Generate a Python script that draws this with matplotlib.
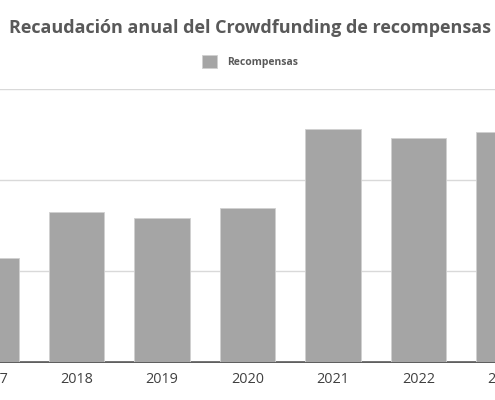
import matplotlib
matplotlib.use("Agg")
import matplotlib.pyplot as plt
from matplotlib.patches import Patch
import numpy as np

plt.rcParams['font.family'] = ['Open Sans', 'DejaVu Sans']

# data (millones de euros)
years = ['2017', '2018', '2019', '2020', '2021', '2022', '2023']
recompensas = [11.5, 16.5, 15.9, 16.9, 25.6, 24.7, 25.3]
grid_ticks = [0, 10, 20, 30]

bar_color = '#a5a5a5'

fig = plt.figure(figsize=(4.95, 4.0), dpi=100)
ax = fig.add_axes([0.0, 0.0943, 1.0, 0.6825])

x = np.arange(len(years))
ax.bar(x, recompensas, width=0.65, color=bar_color, edgecolor='#d0d0d0',
       linewidth=0.6, zorder=3)

ax.set_yticks(grid_ticks)
ax.set_yticklabels([])
ax.tick_params(axis='y', length=0)
ax.grid(axis='y', color='#d9d9d9', linewidth=1.0, zorder=0)
ax.axhline(0, color='#404040', linewidth=1.2, zorder=1, clip_on=False)

ax.set_xticks([])
for s in ax.spines.values():
    s.set_visible(False)

# the source image is cropped on both sides
ax.set_xlim(0.102, 5.898)
ax.set_ylim(0, 30)

# year labels drawn as text so the cut ones at the edges still show
trans = ax.get_xaxis_transform()
for xi, yr in zip(x, years):
    ax.text(xi, -0.063, yr, transform=trans, ha='center', va='center',
            fontsize=10.4, color='#404040', clip_on=False)

fig.text(0.505, 0.931, 'Recaudación anual del Crowdfunding de recompensas',
         ha='center', va='center', fontsize=13.0, color='#595959',
         fontweight='bold')

handle = Patch(facecolor=bar_color, edgecolor='#d0d0d0', linewidth=0.6)
leg = fig.legend([handle], ['Recompensas'], loc='center',
                 bbox_to_anchor=(0.505, 0.847), frameon=False,
                 prop={'size': 7.5, 'weight': 'bold'},
                 handlelength=1.45, handleheight=1.5, handletextpad=1.0)
for t in leg.get_texts():
    t.set_color('#595959')

fig.savefig('out.png', dpi=100, facecolor='white')
